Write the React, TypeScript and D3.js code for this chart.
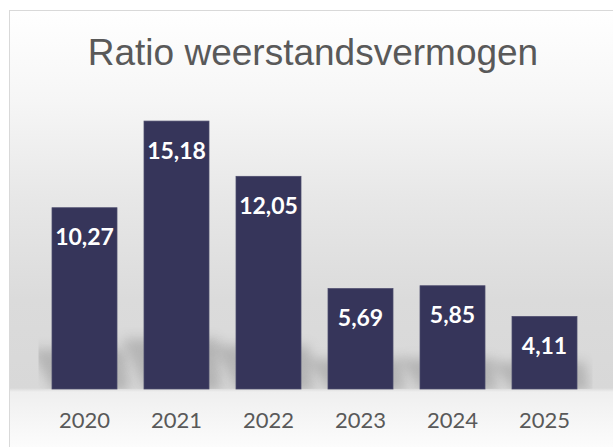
import React from "react";
import * as d3 from "d3";

const title = "Ratio weerstandsvermogen";
const years = ["2020", "2021", "2022", "2023", "2024", "2025"];
const values = [10.27, 15.18, 12.05, 5.69, 5.85, 4.11];
const valueLabels = ["10,27", "15,18", "12,05", "5,69", "5,85", "4,11"];

const W = 613;
const H = 447;
const plot = { left: 38.5, right: 590.5, top: 60, bottom: 389 };
const BAR = "#36355a";

export default function App() {
  const p = 27 / 92;
  const x = d3
    .scaleBand<string>()
    .domain(years)
    .range([plot.left, plot.right])
    .paddingInner(p)
    .paddingOuter(p / 2);
  const y = d3.scaleLinear().domain([0, 18]).range([plot.bottom, plot.bottom - 17.65 * 18]);
  const bw = x.bandwidth();

  return (
    <svg
      width={W}
      height={H}
      style={{ position: "absolute", left: 0, top: 0, display: "block" }}
    >
      <defs>
        <linearGradient id="bg" gradientUnits="userSpaceOnUse" x1="0" y1="10" x2="0" y2="447">
          <stop offset={0} stopColor="#ffffff" />
          <stop offset={(100 - 10) / 437} stopColor="#f6f6f6" />
          <stop offset={(200 - 10) / 437} stopColor="#e7e7e7" />
          <stop offset={(300 - 10) / 437} stopColor="#dbdbdb" />
          <stop offset={(388 - 10) / 437} stopColor="#d8d8d8" />
          <stop offset={(392 - 10) / 437} stopColor="#efefef" />
          <stop offset={1} stopColor="#fcfcfc" />
        </linearGradient>
        <filter id="blur" x="-50%" y="-50%" width="200%" height="200%">
          <feGaussianBlur stdDeviation="6" />
        </filter>
        <clipPath id="plotClip">
          <rect x={plot.left} y={plot.top} width={plot.right - plot.left + 2} height={plot.bottom - plot.top} />
        </clipPath>
      </defs>
      <rect x={9.5} y={10.5} width={620} height={450} fill="url(#bg)" stroke="#d9d9d9" strokeWidth={1} />
      <text
        x={313}
        y={65}
        textAnchor="middle"
        fontFamily="'Liberation Sans', Arial, sans-serif"
        fontSize={37}
        fill="#595959"
      >
        {title}
      </text>
      <g clipPath="url(#plotClip)">
        {years.map((yr, i) => {
          const x0 = x(yr)!;
          const x1 = x0 + bw;
          const base = y(0);
          const h = base - y(values[i]);
          const rise = 18 + 0.12 * h;
          const pts = [
            [x0 + 2, base + 2],
            [x1 + 12, base + 2],
            [x1 + 8, base - rise],
            [x0 - 22, base - rise],
          ];
          return (
            <polygon
              key={"s" + yr}
              points={pts.map((q) => q.join(",")).join(" ")}
              fill="#7a7a7a"
              opacity={0.38}
              filter="url(#blur)"
            />
          );
        })}
      </g>
      {years.map((yr, i) => (
        <rect
          key={"b" + yr}
          x={x(yr)!}
          y={y(values[i])}
          width={bw}
          height={y(0) - y(values[i])}
          fill={BAR}
          stroke="#4c4b6c"
          strokeWidth={0.75}
        />
      ))}
      {years.map((yr, i) => (
        <text
          key={"v" + yr}
          x={x(yr)! + bw / 2}
          y={y(values[i]) + 37.5}
          textAnchor="middle"
          fontFamily="Lato, sans-serif"
          fontWeight="bold"
          fontSize={23}
          fill="#ffffff"
        >
          {valueLabels[i]}
        </text>
      ))}
      {years.map((yr) => (
        <text
          key={"x" + yr}
          x={x(yr)! + bw / 2}
          y={428}
          textAnchor="middle"
          fontFamily="Lato, sans-serif"
          fontSize={22}
          fill="#595959"
        >
          {yr}
        </text>
      ))}
    </svg>
  );
}
